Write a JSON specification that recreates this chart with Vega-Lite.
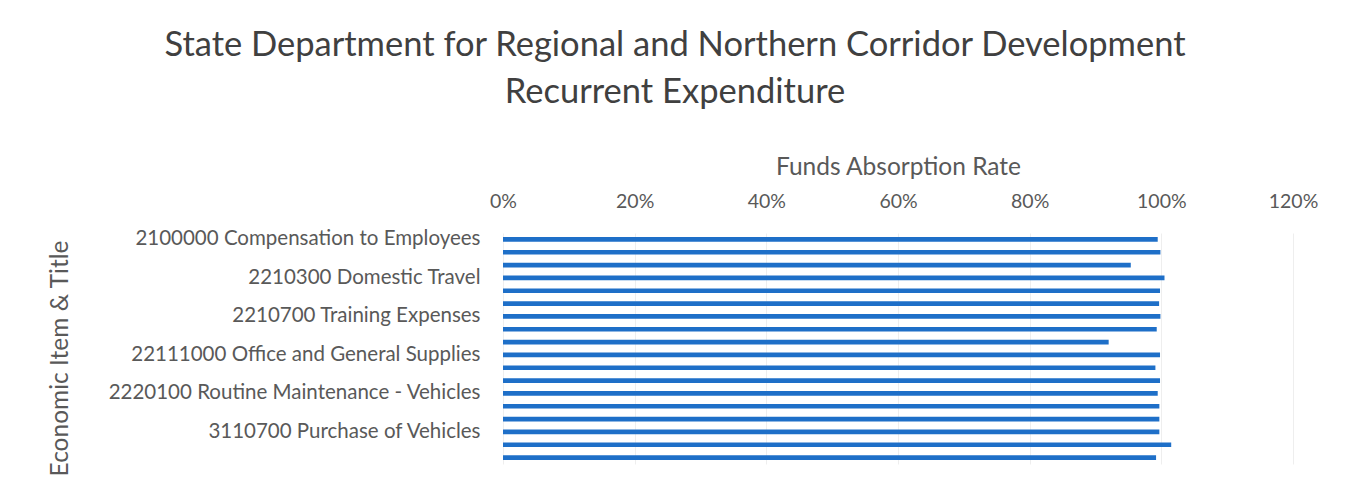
{
  "$schema": "https://vega.github.io/schema/vega-lite/v6.json",
  "width": 790,
  "height": 231,
  "autosize": {"type": "none"},
  "padding": {"left": 503, "top": 233, "right": 56, "bottom": 25},
  "background": "white",
  "title": {
    "text": ["State Department for Regional and Northern Corridor Development", "Recurrent Expenditure"],
    "font": "Lato",
    "fontSize": 34.5,
    "fontWeight": "normal",
    "lineHeight": 47,
    "color": "#404040",
    "anchor": "middle",
    "frame": "group",
    "dx": -223,
    "offset": 44
  },
  "data": {
    "values": [
      {"item": "2100000 Compensation to Employees", "rate": 0.9945},
      {"item": "2210100 Utilities Supplies and Services", "rate": 0.9986},
      {"item": "2210200 Communication, Supplies and Services", "rate": 0.9536},
      {"item": "2210300 Domestic Travel", "rate": 1.0048},
      {"item": "2210400 Foreign Travel", "rate": 0.998},
      {"item": "2210500 Printing, Advertising and Information Supplies", "rate": 0.9966},
      {"item": "2210700 Training Expenses", "rate": 0.9986},
      {"item": "2210800 Hospitality Supplies and Services", "rate": 0.993},
      {"item": "2210900 Insurance Costs", "rate": 0.92},
      {"item": "22111000 Office and General Supplies", "rate": 0.998},
      {"item": "2211200 Fuel Oil and Lubricants", "rate": 0.991},
      {"item": "2211300 Other Operating Expenses", "rate": 0.998},
      {"item": "2220100 Routine Maintenance - Vehicles", "rate": 0.9945},
      {"item": "2220200 Routine Maintenance - Other Assets", "rate": 0.997},
      {"item": "2710100 Government Pension and Retirement Benefits", "rate": 0.997},
      {"item": "3110700 Purchase of Vehicles", "rate": 0.997},
      {"item": "3111000 Purchase of Office Furniture and General Equipment", "rate": 1.015},
      {"item": "3111100 Purchase of Specialised Plant and Equipment", "rate": 0.992}
    ]
  },
  "mark": {"type": "bar", "color": "#1e6fc8"},
  "encoding": {
    "y": {
      "field": "item",
      "type": "nominal",
      "sort": null,
      "scale": {"paddingInner": 0.63, "paddingOuter": 0.315},
      "axis": {
        "title": "Economic Item & Title",
        "titleFont": "Lato",
        "titleFontSize": 24.5,
        "titleFontWeight": "normal",
        "titleColor": "#595959",
        "titleX": -443,
        "titleY": 125,
        "titleAngle": -90,
        "titleBaseline": "middle",
        "titleAlign": "center",
        "labelFont": "Lato",
        "labelFontSize": 20.5,
        "labelColor": "#595959",
        "labelPadding": 23,
        "labelLimit": 600,
        "labelExpr": "round(datum.index * 17) % 3 == 0 ? datum.label : ''",
        "ticks": false,
        "domain": false,
        "grid": false
      }
    },
    "x": {
      "field": "rate",
      "type": "quantitative",
      "scale": {"domain": [0, 1.2], "nice": false},
      "axis": {
        "orient": "top",
        "values": [0, 0.2, 0.4, 0.6, 0.8, 1.0, 1.2],
        "format": ".0%",
        "title": "Funds Absorption Rate",
        "titleFont": "Lato",
        "titleFontSize": 24.5,
        "titleFontWeight": "normal",
        "titleColor": "#595959",
        "titlePadding": 12,
        "labelFont": "Lato",
        "labelFontSize": 19.5,
        "labelColor": "#595959",
        "labelPadding": 22,
        "labelFlush": false,
        "ticks": false,
        "domain": false,
        "grid": true,
        "gridColor": "#eeeeee",
        "gridWidth": 1
      }
    }
  },
  "config": {"view": {"stroke": null}}
}
